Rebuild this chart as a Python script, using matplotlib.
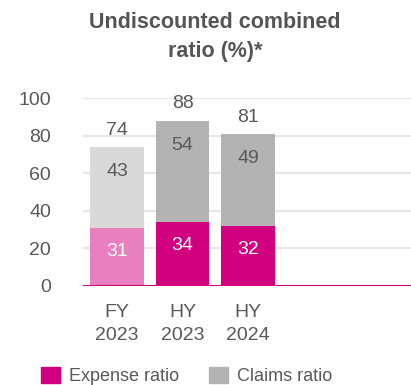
import matplotlib.pyplot as plt
from matplotlib.patches import Patch

plt.rcParams['font.family'] = ['Liberation Sans', 'DejaVu Sans']

categories = ['FY\n2023', 'HY\n2023', 'HY\n2024']
expense = [31, 34, 32]
claims = [43, 54, 49]
totals = [74, 88, 81]

magenta = '#D0007F'
pink = '#E87FBE'
grey = '#B3B3B3'
light_grey = '#D9D9D9'
text_grey = '#595959'

exp_colors = [pink, magenta, magenta]
clm_colors = [light_grey, grey, grey]

fig = plt.figure(figsize=(4.11, 3.85), dpi=100)
ax = fig.add_axes([83 / 411, 1 - 286 / 385, 328 / 411, (286 - 98) / 385])

x = list(range(len(categories)))
width = 0.82
ax.bar(x, expense, width, color=exp_colors, zorder=3)
ax.bar(x, claims, width, bottom=expense, color=clm_colors, zorder=3)

fs = 14
for i in x:
    ax.annotate(str(expense[i]), (i, expense[i]), xytext=(0, -17), textcoords='offset points',
                ha='center', va='center', color='white', fontsize=fs, zorder=4)
    ax.annotate(str(claims[i]), (i, totals[i]), xytext=(0, -18), textcoords='offset points',
                ha='center', va='center', color=text_grey, fontsize=fs, zorder=4)
    ax.annotate(str(totals[i]), (i, totals[i]), xytext=(0, 12), textcoords='offset points',
                ha='center', va='center', color=text_grey, fontsize=fs, zorder=4)

ax.set_xlim(-0.52, 4.49)
ax.set_ylim(0, 100)
ax.set_yticks([0, 20, 40, 60, 80, 100])
ax.set_xticks(x)
ax.set_xticklabels(categories, linespacing=1.45)
ax.tick_params(axis='both', length=0, labelsize=fs, labelcolor=text_grey)
ax.tick_params(axis='y', pad=23)
ax.tick_params(axis='x', pad=13)
ax.yaxis.grid(True, color='#E6E6E6', linewidth=1.5, zorder=0)
ax.axhline(0, color=magenta, linewidth=1.5, zorder=5)
for s in ax.spines.values():
    s.set_visible(False)

fig.text(0.523, 1 - 37 / 385, 'Undiscounted combined\nratio (%)*', ha='center', va='center',
         fontsize=15.5, fontweight='bold', color='#555555', linespacing=1.55,
         family=['Liberation Sans Narrow', 'Liberation Sans', 'DejaVu Sans'])

handles = [Patch(color=magenta, label='Expense ratio'), Patch(color=grey, label='Claims ratio')]
fig.legend(handles=handles, loc='center', bbox_to_anchor=(0.454, 1 - 376 / 385), ncol=2,
           frameon=False, fontsize=13, labelcolor=text_grey, handlelength=1.05,
           handleheight=1.05, columnspacing=1.7, handletextpad=0.5, borderaxespad=0)

fig.savefig('out.png', dpi=100)
